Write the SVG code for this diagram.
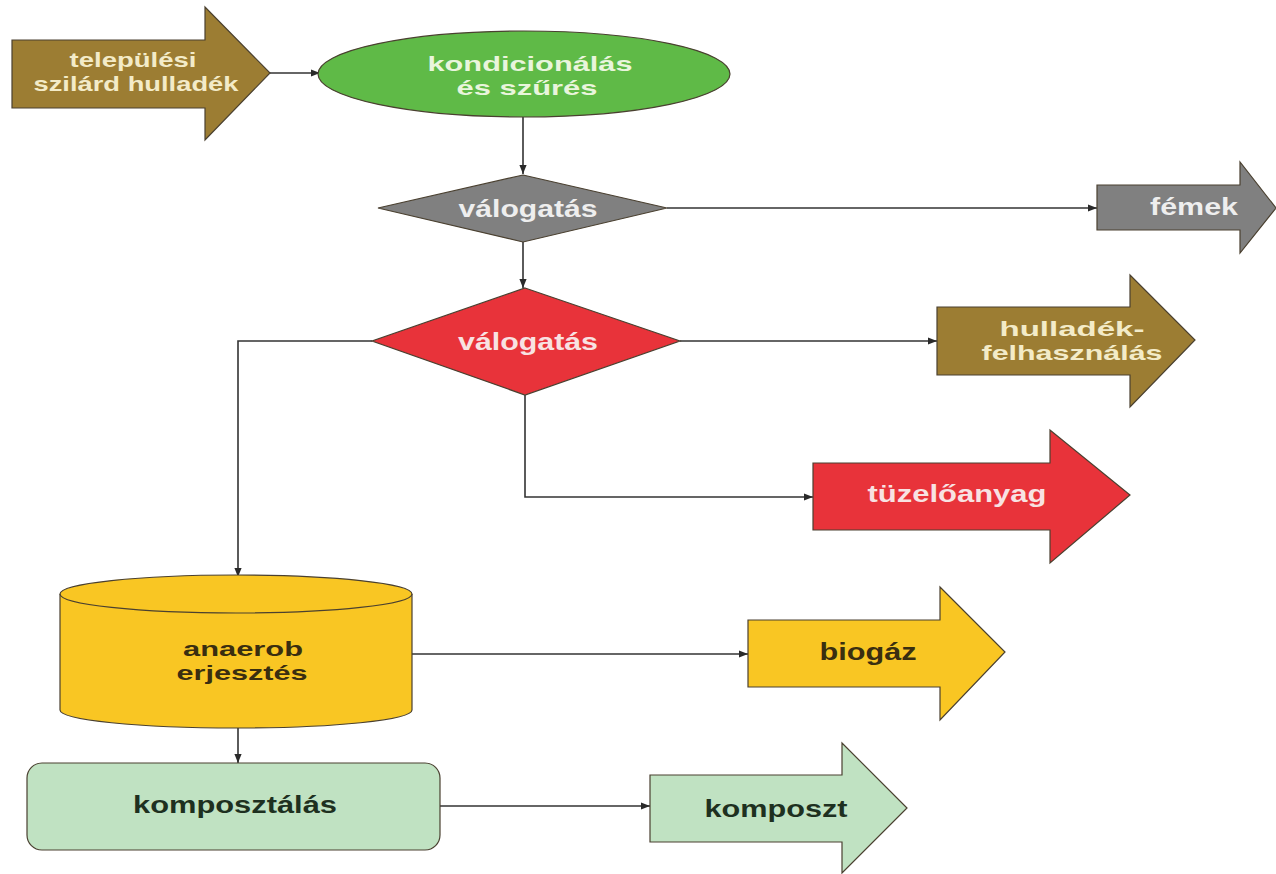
<svg xmlns="http://www.w3.org/2000/svg" width="1276" height="874" viewBox="0 0 1276 874">
<defs>
<marker id="ah" viewBox="0 0 10 10" refX="10" refY="5" markerWidth="9" markerHeight="9" markerUnits="userSpaceOnUse" orient="auto">
<path d="M0,1 L10,5 L0,9 z" fill="#2a2a2a"/>
</marker>
<style>
.t{font-family:"Liberation Sans",Arial,sans-serif;font-weight:bold;font-size:23px;text-anchor:middle}
.t2{font-size:21px}
.ol{stroke:#4a4030;stroke-width:1.2}
.c{fill:none;stroke:#333;stroke-width:1.6;marker-end:url(#ah)}
</style>
</defs>
<rect width="1276" height="874" fill="#fff"/>
<g id="connectors">
<path class="c" d="M270,73 L320,73"/>
<path class="c" d="M523,117 L523,174"/>
<path class="c" d="M667,208 L1097,208"/>
<path class="c" d="M523,242 L523,288"/>
<path class="c" d="M680,341 L937,341"/>
<path class="c" d="M372,341 L238,341 L238,577"/>
<path class="c" d="M525,395 L525,497 L813,497"/>
<path class="c" d="M412,654 L748,654"/>
<path class="c" d="M238,727 L238,763"/>
<path class="c" d="M440,806 L650,806"/>
</g>
<g id="n-telepulesi">
<polygon class="ol" fill="#9c7d33" points="12,40 205,40 205,7 270,73 205,140 205,108 12,108"/>
<text class="t t2" fill="#f3ebc8" x="133" y="67" textLength="127" lengthAdjust="spacingAndGlyphs">települési</text>
<text class="t t2" fill="#f3ebc8" x="136" y="91" textLength="205" lengthAdjust="spacingAndGlyphs">szilárd hulladék</text>
</g>
<g id="n-kondicionalas">
<ellipse class="ol" fill="#5fba47" cx="524" cy="74" rx="206" ry="43"/>
<text class="t t2" fill="#e9f5dc" x="530" y="71" textLength="205" lengthAdjust="spacingAndGlyphs">kondicionálás</text>
<text class="t t2" fill="#e9f5dc" x="527" y="95" textLength="141" lengthAdjust="spacingAndGlyphs">és szűrés</text>
</g>
<g id="n-valogatas1">
<polygon class="ol" fill="#808080" points="523,175 667,208 523,242 378,208"/>
<text class="t" fill="#eeeeee" x="528" y="217" textLength="139" lengthAdjust="spacingAndGlyphs">válogatás</text>
</g>
<g id="n-femek">
<polygon class="ol" fill="#808080" points="1097,185 1240,185 1240,162 1276,208 1240,253 1240,230 1097,230"/>
<text class="t" fill="#eeeeee" x="1194" y="215" textLength="88" lengthAdjust="spacingAndGlyphs">fémek</text>
</g>
<g id="n-valogatas2">
<polygon class="ol" fill="#e8333a" points="525,288 680,341 525,395 372,341"/>
<text class="t" fill="#f8e2e2" x="528" y="350" textLength="140" lengthAdjust="spacingAndGlyphs">válogatás</text>
</g>
<g id="n-hulladek">
<polygon class="ol" fill="#9c7d33" points="937,307 1130,307 1130,275 1195,340 1130,407 1130,375 937,375"/>
<text class="t t2" fill="#f3ebc8" x="1072" y="336" textLength="145" lengthAdjust="spacingAndGlyphs">hulladék-</text>
<text class="t t2" fill="#f3ebc8" x="1072" y="360" textLength="181" lengthAdjust="spacingAndGlyphs">felhasználás</text>
</g>
<g id="n-tuzeloanyag">
<polygon class="ol" fill="#e8333a" points="813,463 1050,463 1050,430 1130,495 1050,563 1050,530 813,530"/>
<text class="t" fill="#f8e2e2" x="957" y="502" textLength="179" lengthAdjust="spacingAndGlyphs">tüzelőanyag</text>
</g>
<g id="n-anaerob">
<path class="ol" fill="#f9c623" d="M60,594 L60,710 A176,18 0 0 0 412,710 L412,594"/>
<ellipse class="ol" fill="#f9c623" cx="236" cy="594" rx="176" ry="19"/>
<text class="t t2" fill="#3a2e10" x="243" y="656" textLength="120" lengthAdjust="spacingAndGlyphs">anaerob</text>
<text class="t t2" fill="#3a2e10" x="242" y="680" textLength="131" lengthAdjust="spacingAndGlyphs">erjesztés</text>
</g>
<g id="n-biogaz">
<polygon class="ol" fill="#f9c623" points="748,620 940,620 940,587 1005,652 940,720 940,687 748,687"/>
<text class="t" fill="#3a2e10" x="868" y="660" textLength="97" lengthAdjust="spacingAndGlyphs">biogáz</text>
</g>
<g id="n-komposztalas">
<rect class="ol" fill="#c0e2c2" x="27" y="763" width="413" height="87" rx="15"/>
<text class="t" fill="#1e3020" x="235" y="813" textLength="204" lengthAdjust="spacingAndGlyphs">komposztálás</text>
</g>
<g id="n-komposzt">
<polygon class="ol" fill="#c0e2c2" points="650,775 842,775 842,743 907,808 842,873 842,842 650,842"/>
<text class="t" fill="#1e3020" x="776" y="817" textLength="143" lengthAdjust="spacingAndGlyphs">komposzt</text>
</g>
</svg>
